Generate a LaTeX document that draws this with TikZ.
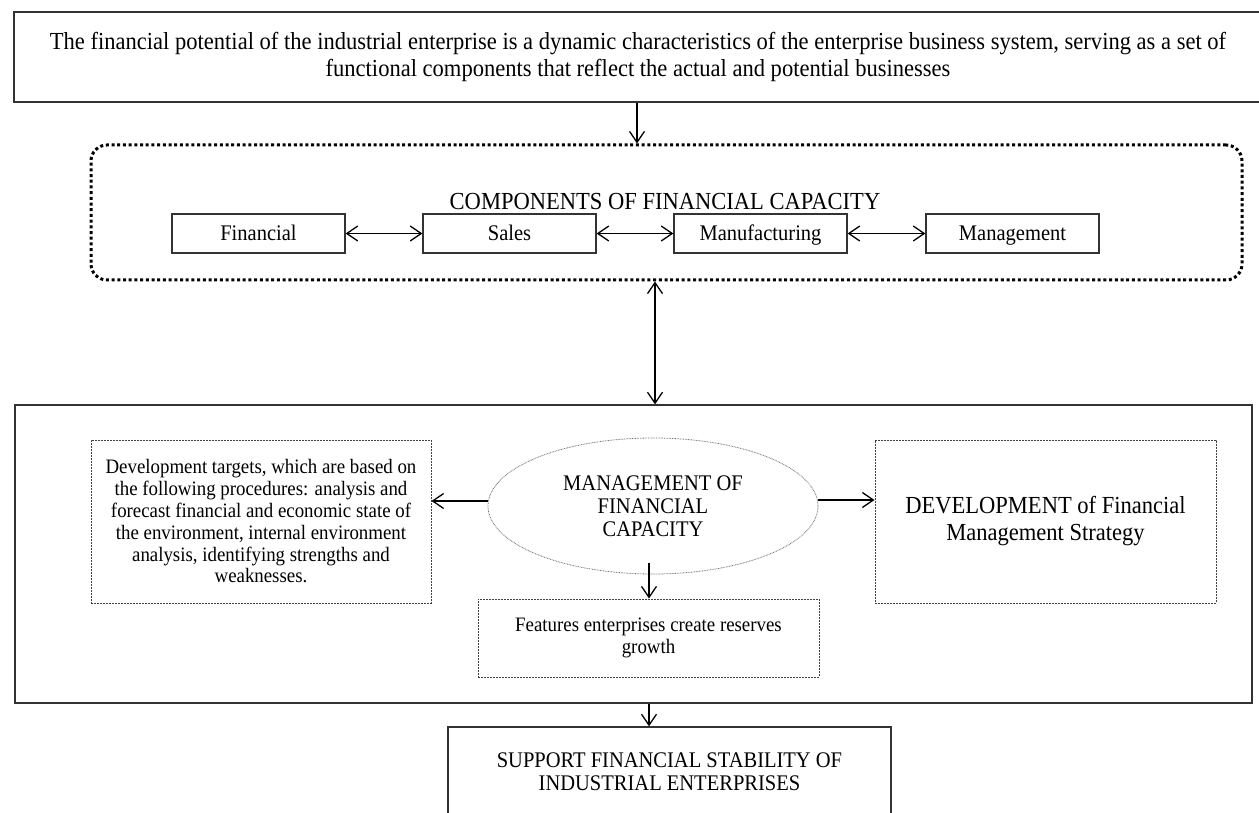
\documentclass[tikz,border=0pt]{standalone}
\usepackage{fontspec}
\setmainfont{Liberation Serif}[FakeStretch=0.92]
\usetikzlibrary{arrows.meta,shapes.geometric}
\begin{document}
\begin{tikzpicture}[x=1pt,y=-1pt,
  box/.style={draw=black!80, line width=1.3pt, inner sep=0pt, align=center},
  thinbox/.style={draw=black!75, line width=1pt, dash pattern=on 2pt off 1pt, inner sep=0pt, align=center},
  compbox/.style={box, fmid, minimum width=173pt, minimum height=39pt, text height=14.5pt, text depth=0pt},
  arr/.style={line width=1.3pt, -{Straight Barb[length=11pt,width=15pt]}},
  dbl/.style={line width=1.3pt, {Straight Barb[length=11pt,width=15pt]}-{Straight Barb[length=11pt,width=15pt]}},
  fbig/.style={font=\fontsize{24.5}{27}\selectfont},
  fmid/.style={font=\fontsize{22.3}{23}\selectfont},
  fsmall/.style={font=\fontsize{20.5}{21.8}\selectfont},
]
\useasboundingbox (0,0) rectangle (1259,813);
\fill[white] (0,0) rectangle (1259,813);

% helper coordinates
\coordinate (xa) at (637,0);
\coordinate (xb) at (655,0);
\coordinate (xc) at (649,0);
\coordinate (ya) at (0,501);
\coordinate (yb) at (0,500);
\coordinate (yd) at (0,563);

% top box
\node[box, fbig, minimum width=1248pt, minimum height=90pt] (top) at (638,57)
  {The financial potential of the industrial enterprise is a dynamic characteristics of the enterprise business system, serving as a set of\\
   functional components that reflect the actual and potential businesses};

% components group
\node[draw, line width=3pt, dash pattern=on 3pt off 2.7pt, rounded corners=16pt,
      minimum width=1151pt, minimum height=135pt, inner sep=0pt] (comp) at (666.5,212.5) {};
\node[fbig, inner sep=0pt] (lbl) at (665,202) {COMPONENTS OF FINANCIAL CAPACITY};

\node[compbox] (fin) at (258.5,233.5) {Financial};
\node[compbox] (sal) at (509.5,233.5) {Sales};
\node[compbox] (man) at (760.5,233.5) {Manufacturing};
\node[compbox] (mgt) at (1012.5,233.5) {Management};

% big box
\node[box, minimum width=1237pt, minimum height=298pt] (big) at (633.5,554) {};

\node[thinbox, fsmall, minimum width=340pt, minimum height=163pt] (dev) at (261,521.5)
  {Development targets, which are based on\\the following procedures: analysis and\\forecast financial and economic state of\\the environment, internal environment\\analysis, identifying strengths and\\weaknesses.};

\node[ellipse, draw=black!55, line width=0.8pt, dash pattern=on 0.8pt off 0.8pt, fmid,
      minimum width=330pt, minimum height=136pt, inner sep=0pt, align=center] (ell) at (653,506)
  {MANAGEMENT OF\\FINANCIAL\\CAPACITY};

\node[thinbox, fbig, minimum width=341pt, minimum height=163pt] (strat) at (1045.5,521.5)
  {DEVELOPMENT of Financial\\Management Strategy};

\node[thinbox, fsmall, minimum width=341pt, minimum height=78pt] (feat) at (648.5,638)
  {Features enterprises create reserves\\growth};

\node[box, fmid, minimum width=443pt, minimum height=89pt] (sup) at (669.5,771.5)
  {SUPPORT FINANCIAL STABILITY OF\\INDUSTRIAL ENTERPRISES};

% connectors
\draw[arr] (top.south -| xa) -- (comp.north -| xa);
\draw[dbl] (fin.east) -- (sal.west);
\draw[dbl] (sal.east) -- (man.west);
\draw[dbl] (man.east) -- (mgt.west);
\draw[dbl] (comp.south -| xb) -- (big.north -| xb);
\draw[arr] (ell.west |- ya) -- (dev.east |- ya);
\draw[arr] (ell.east |- yb) -- (strat.west |- yb);
\draw[arr] (xc |- yd) -- (feat.north -| xc);
\draw[arr] (big.south -| xc) -- (sup.north -| xc);
\end{tikzpicture}
\end{document}
